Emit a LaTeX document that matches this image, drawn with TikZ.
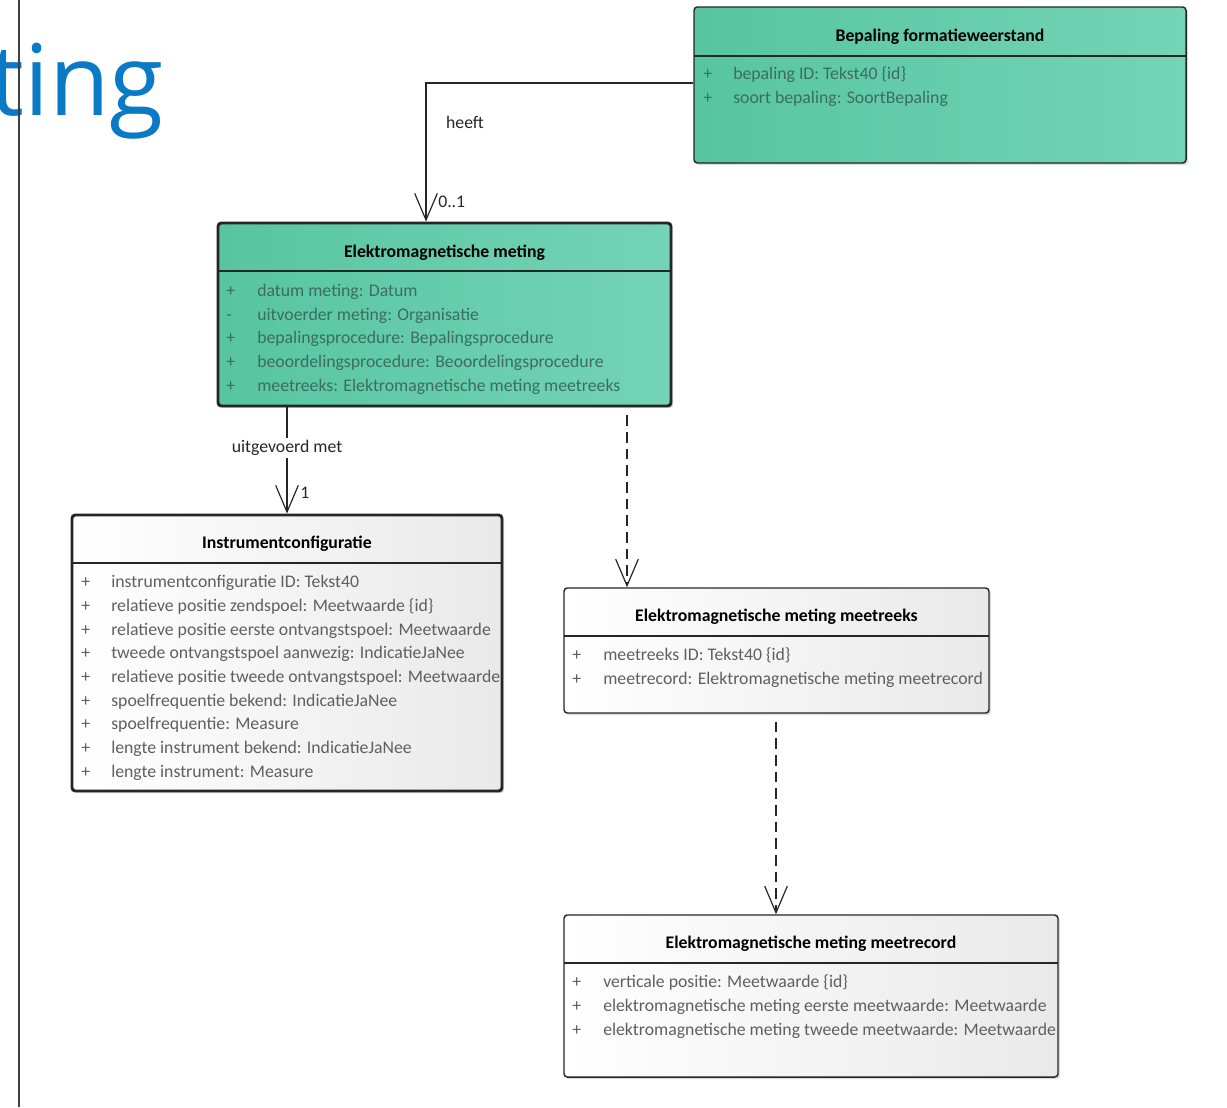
\documentclass[tikz,border=0pt]{standalone}
\usepackage{fontspec}
\setmainfont{Carlito}
\newfontfamily\headfont{Open Sans}
\usetikzlibrary{arrows.meta,shadows,fit}

\definecolor{greenL}{HTML}{57C5A0}
\definecolor{greenR}{HTML}{74D4B6}
\definecolor{greyL}{HTML}{FFFFFF}
\definecolor{greyR}{HTML}{E9E9E9}
\definecolor{itemgrey}{HTML}{5F5F5F}
\definecolor{itemgreen}{HTML}{3C6D5D}
\definecolor{headblue}{HTML}{0A79C6}
\definecolor{edge}{HTML}{262626}

\tikzset{
  classbox/.style={inner sep=0pt, rounded corners=2.5pt, draw=edge,
    drop shadow={shadow xshift=1.6pt, shadow yshift=-1.6pt, opacity=0.28}},
  greenfill/.style={left color=greenL, right color=greenR},
  greyfill/.style={left color=greyL, right color=greyR},
  heavy/.style={line width=2.2pt},
  light/.style={line width=1.1pt},
  classtitle/.style={font=\fontsize{13.3}{15}\selectfont\bfseries, text=black, inner sep=0pt, yshift=-1.5pt},
  attr/.style={font=\fontsize{13.3}{15}\selectfont, anchor=mid west, inner sep=0pt, yshift=-2pt},
  assoc/.style={draw=edge, line width=0.9pt, -{Straight Barb[length=20pt,width=17pt,line width=0.9pt]}},
  depend/.style={assoc, dash pattern=on 8pt off 4.5pt},
  linklabel/.style={font=\fontsize{13.3}{15}\selectfont, text=black!85, inner sep=1.5pt, yshift=-1.5pt},
}

\begin{document}
\begin{tikzpicture}[x=0.75pt,y=-0.75pt]
\useasboundingbox (0,0) rectangle (1227,1107);

% page heading fragment and margin rule
\node[anchor=base east, font=\headfont\fontsize{74}{80}\selectfont, text=headblue, inner sep=0pt] (heading) at (164,115) {ting};
\draw[line width=1.5pt, black!75] (19,0) -- (19,1107);

% ---- Bepaling formatieweerstand
\node[classbox, greenfill, light, fit={(694,7)(1186,163)}] (bep) {};
\draw[light, edge] (694,56) -- (1186,56);
\node[classtitle] at (940,35) {Bepaling formatieweerstand};
\foreach \y/\v/\t in {74/+/bepaling ID: Tekst40 \{id\}, 98/+/soort bepaling: SoortBepaling}{
  \node[attr, text=itemgreen] at (703,\y) {\v};
  \node[attr, text=itemgreen] at (733,\y) {\t};
}

% ---- Elektromagnetische meting
\node[classbox, greenfill, heavy, fit={(218,223)(671,406)}] (em) {};
\draw[heavy, edge] (218,271) -- (671,271);
\node[classtitle] at (444.5,251) {Elektromagnetische meting};
\foreach \y/\v/\t in {291/+/datum meting: Datum, 315/-/uitvoerder meting: Organisatie,
  338/+/bepalingsprocedure: Bepalingsprocedure, 362/+/beoordelingsprocedure: Beoordelingsprocedure,
  386/+/meetreeks: Elektromagnetische meting meetreeks}{
  \node[attr, text=itemgreen] at (226,\y) {\v};
  \node[attr, text=itemgreen] at (257,\y) {\t};
}

% ---- Instrumentconfiguratie
\node[classbox, greyfill, heavy, fit={(72,515)(502,791)}] (ic) {};
\draw[heavy, edge] (72,563) -- (502,563);
\node[classtitle] at (287,542) {Instrumentconfiguratie};
\begin{scope}
\clip (72,563) rectangle (501,791);
\foreach \y/\t in {582/instrumentconfiguratie ID: Tekst40,
  606/relatieve positie zendspoel: Meetwaarde \{id\},
  630/relatieve positie eerste ontvangstspoel: Meetwaarde,
  653/tweede ontvangstspoel aanwezig: IndicatieJaNee,
  677/relatieve positie tweede ontvangstspoel: Meetwaarde,
  701/spoelfrequentie bekend: IndicatieJaNee,
  724/spoelfrequentie: Measure,
  748/lengte instrument bekend: IndicatieJaNee,
  772/lengte instrument: Measure}{
  \node[attr, text=itemgrey] at (81,\y) {+};
  \node[attr, text=itemgrey] at (111,\y) {\t};
}
\end{scope}

% ---- Elektromagnetische meting meetreeks
\node[classbox, greyfill, light, fit={(564,588)(989,713)}] (mr) {};
\draw[light, edge] (564,636) -- (989,636);
\node[classtitle] at (776.5,615) {Elektromagnetische meting meetreeks};
\foreach \y/\t in {655/meetreeks ID: Tekst40 \{id\},
  679/meetrecord: Elektromagnetische meting meetrecord}{
  \node[attr, text=itemgrey] at (572,\y) {+};
  \node[attr, text=itemgrey] at (603,\y) {\t};
}

% ---- Elektromagnetische meting meetrecord
\node[classbox, greyfill, light, fit={(564,915)(1058,1077)}] (rec) {};
\draw[light, edge] (564,963) -- (1058,963);
\node[classtitle] at (811,942) {Elektromagnetische meting meetrecord};
\begin{scope}
\clip (564,963) rectangle (1057.5,1077);
\foreach \y/\t in {982/verticale positie: Meetwaarde \{id\},
  1006/elektromagnetische meting eerste meetwaarde: Meetwaarde,
  1030/elektromagnetische meting tweede meetwaarde: Meetwaarde}{
  \node[attr, text=itemgrey] at (572,\y) {+};
  \node[attr, text=itemgrey] at (603,\y) {\t};
}
\end{scope}

% ---- connectors
\coordinate (xa) at (426,0);
\coordinate (ya) at (0,83);
\coordinate (xb) at (287,0);
\coordinate (xc) at (627,0);
\coordinate (xd) at (776,0);

\draw[assoc] (bep.west |- ya) -| (em.north -| xa);
\node[linklabel] (lheeft) at (465,120) {heeft};
\node[linklabel, anchor=west] (lm1) at (436,200) {0..1};

\draw[assoc] (em.south -| xb) -- (ic.north -| xb);
\node[linklabel, fill=white] (luit) at (287,446) {uitgevoerd met};
\node[linklabel, anchor=west] (lm2) at (298,491) {1};

\draw[depend] ([yshift=-6pt]em.south -| xc) -- (mr.north -| xc);
\draw[depend] ([yshift=-6pt]mr.south -| xd) -- (rec.north -| xd);
\end{tikzpicture}
\end{document}
